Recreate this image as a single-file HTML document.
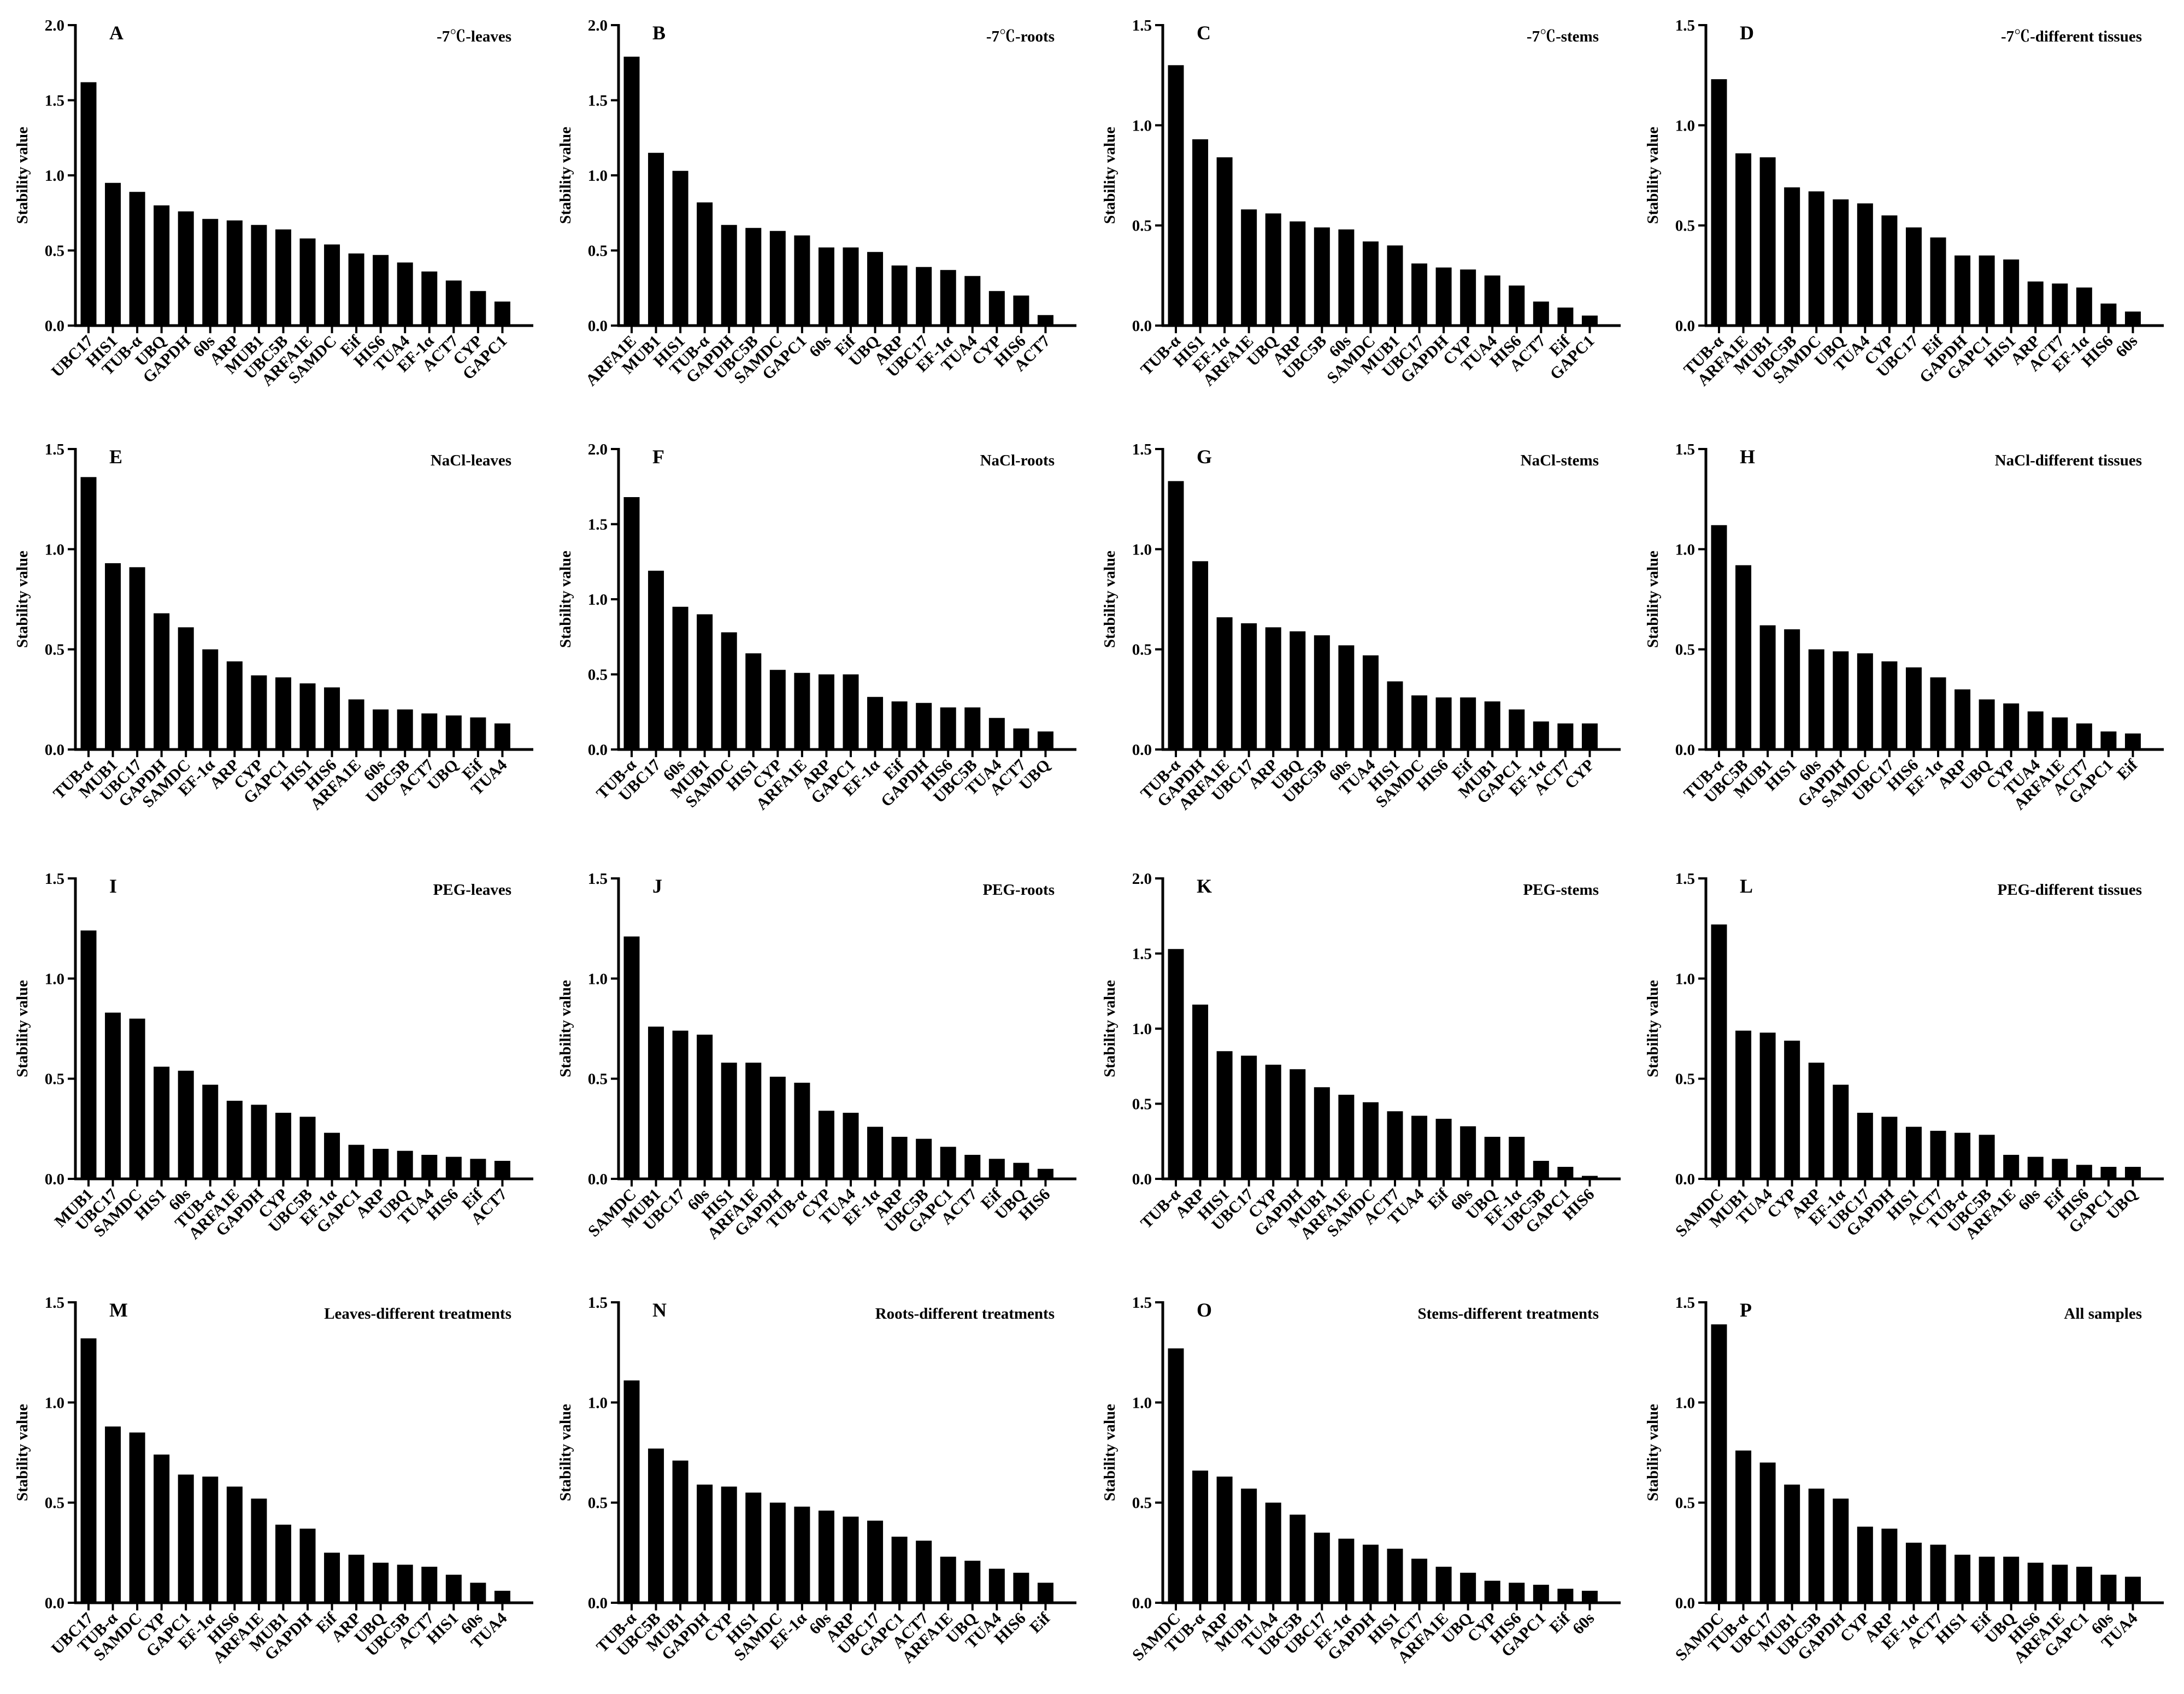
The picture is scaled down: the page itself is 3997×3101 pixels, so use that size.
<!DOCTYPE html>
<html><head><meta charset="utf-8"><style>
html,body{margin:0;padding:0;background:#fff}
svg{display:block}
text{font-family:"Liberation Serif","Noto Serif CJK SC",serif;font-weight:bold;fill:#000}
</style></head>
<body>
<svg id="fig" width="3997" height="3101" viewBox="0 0 3997 3101" xmlns="http://www.w3.org/2000/svg"></svg>
<script>
const panelLetters=["A","B","C","D","E","F","G","H","I","J","K","L","M","N","O","P"];
const panelTitles=["-7℃-leaves","-7℃-roots","-7℃-stems","-7℃-different tissues","NaCl-leaves","NaCl-roots","NaCl-stems","NaCl-different tissues","PEG-leaves","PEG-roots","PEG-stems","PEG-different tissues","Leaves-different treatments","Roots-different treatments","Stems-different treatments","All samples"];
const panelMax=[2,2,1.5,1.5,1.5,2,1.5,1.5,1.5,1.5,2,1.5,1.5,1.5,1.5,1.5];
const catsA=["UBC17","HIS1","TUB-α","UBQ","GAPDH","60s","ARP","MUB1","UBC5B","ARFA1E","SAMDC","Eif","HIS6","TUA4","EF-1α","ACT7","CYP","GAPC1"];
const valsA=[1.62,.95,.89,.80,.76,.71,.70,.67,.64,.58,.54,.48,.47,.42,.36,.30,.23,.16];
const catsB=["ARFA1E","MUB1","HIS1","TUB-α","GAPDH","UBC5B","SAMDC","GAPC1","60s","Eif","UBQ","ARP","UBC17","EF-1α","TUA4","CYP","HIS6","ACT7"];
const valsB=[1.79,1.15,1.03,.82,.67,.65,.63,.60,.52,.52,.49,.40,.39,.37,.33,.23,.20,.07];
const catsC=["TUB-α","HIS1","EF-1α","ARFA1E","UBQ","ARP","UBC5B","60s","SAMDC","MUB1","UBC17","GAPDH","CYP","TUA4","HIS6","ACT7","Eif","GAPC1"];
const valsC=[1.30,.93,.84,.58,.56,.52,.49,.48,.42,.40,.31,.29,.28,.25,.20,.12,.09,.05];
const catsD=["TUB-α","ARFA1E","MUB1","UBC5B","SAMDC","UBQ","TUA4","CYP","UBC17","Eif","GAPDH","GAPC1","HIS1","ARP","ACT7","EF-1α","HIS6","60s"];
const valsD=[1.23,.86,.84,.69,.67,.63,.61,.55,.49,.44,.35,.35,.33,.22,.21,.19,.11,.07];
const catsE=["TUB-α","MUB1","UBC17","GAPDH","SAMDC","EF-1α","ARP","CYP","GAPC1","HIS1","HIS6","ARFA1E","60s","UBC5B","ACT7","UBQ","Eif","TUA4"];
const valsE=[1.36,.93,.91,.68,.61,.50,.44,.37,.36,.33,.31,.25,.20,.20,.18,.17,.16,.13];
const catsF=["TUB-α","UBC17","60s","MUB1","SAMDC","HIS1","CYP","ARFA1E","ARP","GAPC1","EF-1α","Eif","GAPDH","HIS6","UBC5B","TUA4","ACT7","UBQ"];
const valsF=[1.68,1.19,.95,.90,.78,.64,.53,.51,.50,.50,.35,.32,.31,.28,.28,.21,.14,.12];
const catsG=["TUB-α","GAPDH","ARFA1E","UBC17","ARP","UBQ","UBC5B","60s","TUA4","HIS1","SAMDC","HIS6","Eif","MUB1","GAPC1","EF-1α","ACT7","CYP"];
const valsG=[1.34,.94,.66,.63,.61,.59,.57,.52,.47,.34,.27,.26,.26,.24,.20,.14,.13,.13];
const catsH=["TUB-α","UBC5B","MUB1","HIS1","60s","GAPDH","SAMDC","UBC17","HIS6","EF-1α","ARP","UBQ","CYP","TUA4","ARFA1E","ACT7","GAPC1","Eif"];
const valsH=[1.12,.92,.62,.60,.50,.49,.48,.44,.41,.36,.30,.25,.23,.19,.16,.13,.09,.08];
const catsI=["MUB1","UBC17","SAMDC","HIS1","60s","TUB-α","ARFA1E","GAPDH","CYP","UBC5B","EF-1α","GAPC1","ARP","UBQ","TUA4","HIS6","Eif","ACT7"];
const valsI=[1.24,.83,.80,.56,.54,.47,.39,.37,.33,.31,.23,.17,.15,.14,.12,.11,.10,.09];
const catsJ=["SAMDC","MUB1","UBC17","60s","HIS1","ARFA1E","GAPDH","TUB-α","CYP","TUA4","EF-1α","ARP","UBC5B","GAPC1","ACT7","Eif","UBQ","HIS6"];
const valsJ=[1.21,.76,.74,.72,.58,.58,.51,.48,.34,.33,.26,.21,.20,.16,.12,.10,.08,.05];
const catsK=["TUB-α","ARP","HIS1","UBC17","CYP","GAPDH","MUB1","ARFA1E","SAMDC","ACT7","TUA4","Eif","60s","UBQ","EF-1α","UBC5B","GAPC1","HIS6"];
const valsK=[1.53,1.16,.85,.82,.76,.73,.61,.56,.51,.45,.42,.40,.35,.28,.28,.12,.08,.02];
const catsL=["SAMDC","MUB1","TUA4","CYP","ARP","EF-1α","UBC17","GAPDH","HIS1","ACT7","TUB-α","UBC5B","ARFA1E","60s","Eif","HIS6","GAPC1","UBQ"];
const valsL=[1.27,.74,.73,.69,.58,.47,.33,.31,.26,.24,.23,.22,.12,.11,.10,.07,.06,.06];
const catsM=["UBC17","TUB-α","SAMDC","CYP","GAPC1","EF-1α","HIS6","ARFA1E","MUB1","GAPDH","Eif","ARP","UBQ","UBC5B","ACT7","HIS1","60s","TUA4"];
const valsM=[1.32,.88,.85,.74,.64,.63,.58,.52,.39,.37,.25,.24,.20,.19,.18,.14,.10,.06];
const catsN=["TUB-α","UBC5B","MUB1","GAPDH","CYP","HIS1","SAMDC","EF-1α","60s","ARP","UBC17","GAPC1","ACT7","ARFA1E","UBQ","TUA4","HIS6","Eif"];
const valsN=[1.11,.77,.71,.59,.58,.55,.50,.48,.46,.43,.41,.33,.31,.23,.21,.17,.15,.10];
const catsO=["SAMDC","TUB-α","ARP","MUB1","TUA4","UBC5B","UBC17","EF-1α","GAPDH","HIS1","ACT7","ARFA1E","UBQ","CYP","HIS6","GAPC1","Eif","60s"];
const valsO=[1.27,.66,.63,.57,.50,.44,.35,.32,.29,.27,.22,.18,.15,.11,.10,.09,.07,.06];
const catsP=["SAMDC","TUB-α","UBC17","MUB1","UBC5B","GAPDH","CYP","ARP","EF-1α","ACT7","HIS1","Eif","UBQ","HIS6","ARFA1E","GAPC1","60s","TUA4"];
const valsP=[1.39,.76,.70,.59,.57,.52,.38,.37,.30,.29,.24,.23,.23,.20,.19,.18,.14,.13];
const allCats=[catsA,catsB,catsC,catsD,catsE,catsF,catsG,catsH,catsI,catsJ,catsK,catsL,catsM,catsN,catsO,catsP];
const allVals=[valsA,valsB,valsC,valsD,valsE,valsF,valsG,valsH,valsI,valsJ,valsK,valsL,valsM,valsN,valsO,valsP];

const NS="http://www.w3.org/2000/svg";
const svg=document.getElementById('fig');
function mk(tag,attrs,parent){const e=document.createElementNS(NS,tag);for(const k in attrs)e.setAttribute(k,attrs[k]);parent.appendChild(e);return e;}
const colX=[138,1132,2128,3122];
const rowTop=[46,822,1608,2384];
const plotH=550, plotW=838;
for(let p=0;p<16;p++){
  const ax=colX[p%4], top=rowTop[Math.floor(p/4)], base=top+plotH;
  const g=mk('g',{},svg);
  
  
  const maxV=panelMax[p];
  const y=v=>base-(v/maxV)*plotH;
  const n=allCats[p].length;
  const step=(plotW-36)/n;
  const x=i=>ax+24+i*step;
  // axes
  const ya=mk('line',{x1:ax,y1:top-2,x2:ax,y2:base+2,stroke:'#000','stroke-width':5},g);
  
  
  const xa=mk('line',{x1:ax-2,y1:base,x2:ax+plotW,y2:base,stroke:'#000','stroke-width':5},g);
  
  
  for(let t=0;t<=maxV+1e-9;t+=0.5){
    mk('line',{x1:ax-14,y1:y(t),x2:ax,y2:y(t),stroke:'#000','stroke-width':4},g);
    const tl=mk('text',{x:ax-20,y:y(t)+10,'text-anchor':'end','font-size':29},g);
    tl.textContent=t.toFixed(1);
    
    
  }
  const yt=mk('text',{x:0,y:0,'text-anchor':'middle','font-size':29,transform:`translate(${ax-88},${top+plotH/2}) rotate(-90)`},g);
  yt.textContent='Stability value';
  
  
  const lt=mk('text',{x:ax+62,y:top+26,'font-size':36},g);
  lt.textContent=panelLetters[p];
  
  
  const tt=mk('text',{x:ax+plotW-40,y:top+30,'text-anchor':'end','font-size':29},g);
  tt.textContent=panelTitles[p];
  
  
  for(let i=0;i<n;i++){
    const v=allVals[p][i], cx=x(i);
    const b=mk('rect',{x:cx-14.5,y:y(v),width:29,height:base-y(v),fill:'#000'},g);
    
    
    mk('line',{x1:cx,y1:base,x2:cx,y2:base+14,stroke:'#000','stroke-width':4},g);
    const cl=mk('text',{x:0,y:0,'text-anchor':'end','font-size':30,transform:`translate(${cx+10},${base+30}) rotate(-45)`},g);
    cl.textContent=allCats[p][i];
    
    
  }
}
</script>
</body></html>
